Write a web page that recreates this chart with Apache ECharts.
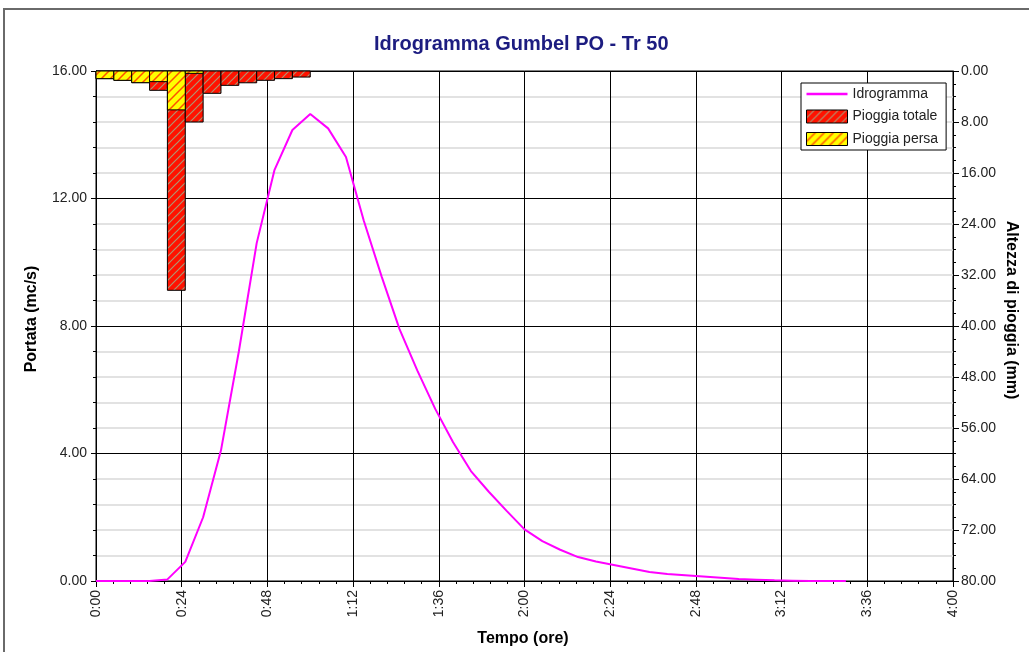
<!DOCTYPE html>
<html>
<head>
<meta charset="utf-8">
<script src="https://cdn.jsdelivr.net/npm/echarts@6/dist/echarts.min.js"></script>
<style>
  html, body { margin: 0; padding: 0; background: #fff; }
  #chart { width: 1029px; height: 652px; }
</style>
</head>
<body>
<div id="chart"></div>
<script>
// Hydrograph: time in minutes, discharge in m3/s
const minutes = [0, 5, 10, 15, 20, 25, 30, 35, 40, 45, 50, 55, 60, 65, 70, 75, 80, 85, 90, 95,
  100, 105, 110, 115, 120, 125, 130, 135, 140, 145, 150, 155, 160, 165, 170, 175, 180, 185, 190,
  195, 200, 205, 210];
const portata = [0, 0, 0, 0, 0.05, 0.6, 2.0, 4.1, 7.2, 10.6, 12.9, 14.15, 14.65, 14.2, 13.3, 11.3,
  9.55, 7.9, 6.6, 5.4, 4.35, 3.45, 2.8, 2.2, 1.62, 1.25, 0.98, 0.75, 0.61, 0.5, 0.39, 0.28, 0.22,
  0.18, 0.14, 0.1, 0.06, 0.04, 0.02, 0.01, 0, 0, 0];

// Hyetograph: 5-minute intervals, rainfall depth in mm
const rainStart = [0, 5, 10, 15, 20, 25, 30, 35, 40, 45, 50, 55];
const rainStep = 5;
const pioggiaTotale = [1.2, 1.46, 1.83, 3.03, 34.4, 8.0, 3.5, 2.25, 1.85, 1.46, 1.2, 0.95];
const pioggiaPersa = [1.2, 1.46, 1.83, 1.67, 6.1, 0.37, 0, 0, 0, 0, 0, 0];

// Axis ticks
const xTicksMin = 0, xTicksMax = 240, xTickStep = 24;
const qMax = 16, qStep = 4;
const hMax = 80, hStep = 8;

function hatch(bg, stripe, size, width) {
  const c = document.createElement('canvas');
  c.width = size; c.height = size;
  const ctx = c.getContext('2d');
  ctx.fillStyle = bg;
  ctx.fillRect(0, 0, size, size);
  ctx.strokeStyle = stripe;
  ctx.lineWidth = width;
  ctx.beginPath();
  ctx.moveTo(-1, size + 1); ctx.lineTo(size + 1, -1);
  ctx.moveTo(-1, 1); ctx.lineTo(1, -1);
  ctx.moveTo(size - 1, size + 1); ctx.lineTo(size + 1, size - 1);
  ctx.stroke();
  return { image: c, repeat: 'repeat' };
}
const redHatch = hatch('#ff1200', '#b09470', 8, 1.2);
const yellowHatch = hatch('#ffff00', '#ff5000', 9, 1.5);

function fmtTime(v) {
  const h = Math.floor(v / 60), m = Math.round(v % 60);
  return h + ':' + (m < 10 ? '0' + m : m);
}

function rainItem(params, api) {
  const p0 = api.coord([api.value(0), 0]);
  const p1 = api.coord([api.value(1), api.value(2)]);
  return {
    type: 'rect',
    shape: { x: p0[0], y: p0[1], width: p1[0] - p0[0], height: p1[1] - p0[1] },
    style: { fill: api.visual('color'), stroke: '#000', lineWidth: 1 }
  };
}

const font = 'Liberation Sans, Arial, sans-serif';
const nameStyle = { fontFamily: font, fontSize: 16, fontWeight: 'bold', fill: '#000', align: 'center', verticalAlign: 'middle' };

const chart = echarts.init(document.getElementById('chart'));
chart.setOption({
  animation: false,
  backgroundColor: '#fff',
  textStyle: { fontFamily: font },
  title: {
    text: 'Idrogramma Gumbel PO - Tr 50',
    left: 369, top: 29,
    textStyle: { fontFamily: font, fontSize: 20, fontWeight: 'bold', color: '#1c1c80' }
  },
  graphic: [{
    type: 'rect', silent: true,
    shape: { x: 4, y: 9, width: 1100, height: 800 },
    style: { fill: null, stroke: '#6a6a6a', lineWidth: 2 }
  }, {
    type: 'text', silent: true, x: 32, y: 319, rotation: Math.PI / 2,
    style: Object.assign({ text: 'Portata (mc/s)' }, nameStyle)
  }, {
    type: 'text', silent: true, x: 523, y: 639,
    style: Object.assign({ text: 'Tempo (ore)' }, nameStyle)
  }, {
    type: 'text', silent: true, x: 1011, y: 310, rotation: -Math.PI / 2,
    style: Object.assign({ text: 'Altezza di pioggia (mm)' }, nameStyle)
  }],
  grid: { left: 96, right: 76, top: 71, bottom: 71, show: true, borderColor: '#000', borderWidth: 1 },
  legend: {
    orient: 'vertical', left: 801, top: 83,
    backgroundColor: '#fff', borderColor: '#000', borderWidth: 1,
    padding: [4, 8, 4, 5], itemGap: 8.5, itemWidth: 41, itemHeight: 13,
    textStyle: { fontFamily: font, fontSize: 14, color: '#222' },
    data: [
      { name: 'Idrogramma', icon: 'path://M0,0 L41,0 L41,2.5 L0,2.5 Z' },
      { name: 'Pioggia totale', icon: 'rect', itemStyle: { color: redHatch, borderColor: '#000', borderWidth: 1 } },
      { name: 'Pioggia persa', icon: 'rect', itemStyle: { color: yellowHatch, borderColor: '#000', borderWidth: 1 } }
    ]
  },
  xAxis: {
    type: 'value', min: xTicksMin, max: xTicksMax, interval: xTickStep,
    axisLine: { show: true, lineStyle: { color: '#000', width: 1 } },
    axisTick: { show: true, length: 6, lineStyle: { color: '#000' } },
    minorTick: { show: true, splitNumber: 5, length: 3, lineStyle: { color: '#000' } },
    splitLine: { show: true, lineStyle: { color: '#000', width: 1 } },
    axisLabel: { rotate: 90, margin: 9, fontSize: 14, color: '#222', formatter: fmtTime }
  },
  yAxis: [{
    type: 'value', min: 0, max: qMax, interval: qStep,
    axisLine: { show: true, lineStyle: { color: '#000', width: 1 } },
    axisTick: { show: true, length: 5, lineStyle: { color: '#000' } },
    minorTick: { show: true, splitNumber: 5, length: 3, lineStyle: { color: '#000' } },
    splitLine: { show: true, lineStyle: { color: '#000', width: 1 } },
    minorSplitLine: { show: true, lineStyle: { color: '#d9d9d9', width: 1.5 } },
    axisLabel: { margin: 9, fontSize: 14, color: '#222', formatter: v => v.toFixed(2) }
  }, {
    type: 'value', min: 0, max: hMax, interval: hStep, inverse: true, position: 'right',
    axisLine: { show: true, lineStyle: { color: '#000', width: 1 } },
    axisTick: { show: true, length: 6, lineStyle: { color: '#000' } },
    minorTick: { show: true, splitNumber: 4, length: 3, lineStyle: { color: '#000' } },
    splitLine: { show: false },
    axisLabel: { margin: 8, fontSize: 14, color: '#222', formatter: v => v.toFixed(2) }
  }],
  series: [{
    name: 'Pioggia totale', type: 'custom', xAxisIndex: 0, yAxisIndex: 1,
    itemStyle: { color: redHatch },
    encode: { x: [0, 1], y: 2 },
    renderItem: rainItem,
    data: rainStart.map((s, i) => [s, s + rainStep, pioggiaTotale[i]]),
    z: 3
  }, {
    name: 'Pioggia persa', type: 'custom', xAxisIndex: 0, yAxisIndex: 1,
    itemStyle: { color: yellowHatch },
    encode: { x: [0, 1], y: 2 },
    renderItem: rainItem,
    data: rainStart.map((s, i) => [s, s + rainStep, pioggiaPersa[i]]).filter(d => d[2] > 0),
    z: 4
  }, {
    name: 'Idrogramma', type: 'line', xAxisIndex: 0, yAxisIndex: 0,
    symbol: 'none', smooth: false, color: '#ff00ff',
    lineStyle: { color: '#ff00ff', width: 2 },
    data: minutes.map((t, i) => [t, portata[i]]),
    z: 5
  }]
});
</script>
</body>
</html>
